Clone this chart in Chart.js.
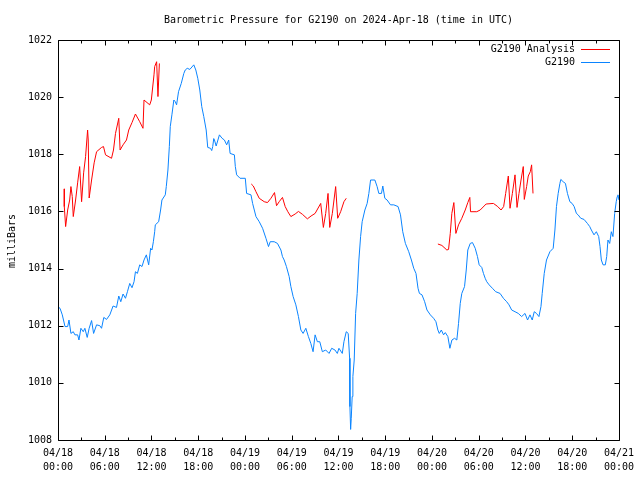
<!DOCTYPE html>
<html>
<head>
<meta charset="utf-8">
<script src="https://cdn.jsdelivr.net/npm/chart.js@4.4.1/dist/chart.umd.min.js"></script>
<style>
html,body{margin:0;padding:0;background:#fff;}
#wrap{width:640px;height:480px;position:relative;}
</style>
</head>
<body>
<div id="wrap"><canvas id="c" width="640" height="480"></canvas></div>
<script>
const chartTitle = "Barometric Pressure for G2190 on 2024-Apr-18 (time in UTC)";
const yAxisTitle = "milliBars";
const seriesNames = ["G2190 Analysis", "G2190"];
const xTickDates = ["04/18","04/18","04/18","04/18","04/19","04/19","04/19","04/19","04/20","04/20","04/20","04/20","04/21"];
const xTickTimes = ["00:00","06:00","12:00","18:00","00:00","06:00","12:00","18:00","00:00","06:00","12:00","18:00","00:00"];
const yTicks = [1008,1010,1012,1014,1016,1018,1020,1022];

// hours since 04/18 00:00 UTC
const stationHours = [0,0.26,0.55,0.9,1.24,1.41,1.66,1.96,2.17,2.52,2.69,2.94,3.24,3.45,3.75,4.0,4.31,4.57,4.95,5.37,5.59,5.88,6.23,6.65,7.07,7.51,7.8,8.06,8.35,8.66,8.91,9.21,9.5,9.76,9.94,10.19,10.49,10.78,11.04,11.34,11.64,11.89,12.06,12.24,12.41,12.49,12.92,13.17,13.34,13.77,13.9,14.11,14.29,14.41,14.62,14.87,15.05,15.22,15.47,15.82,16.15,16.33,16.59,16.92,17.43,17.69,17.94,18.2,18.45,18.71,19.02,19.22,19.57,19.73,19.86,19.99,20.08,20.3,20.72,21.06,21.36,21.65,21.91,22.09,22.64,22.76,22.93,23.37,24.04,24.21,24.77,24.98,25.41,25.83,26.26,26.69,27.02,27.24,27.75,28.17,28.61,28.81,29.03,29.32,29.67,29.89,30.18,30.53,30.86,31.17,31.46,31.81,32.14,32.45,32.74,33.0,33.29,33.6,33.93,34.36,34.79,35.13,35.55,35.85,36.06,36.49,36.7,37.0,37.25,37.43,37.47,37.56,37.64,37.76,37.85,38.02,38.2,38.4,38.62,38.84,39.04,39.39,39.68,39.9,40.12,40.67,40.96,41.18,41.52,41.69,41.95,42.24,42.68,43.1,43.65,43.96,44.25,44.59,45.02,45.36,45.66,45.95,46.21,46.39,46.72,47.06,47.36,47.79,48.21,48.51,48.76,48.94,49.2,49.49,49.71,50.04,50.3,50.56,50.9,51.19,51.41,51.63,51.83,52.18,52.4,52.6,52.91,53.2,53.55,53.84,54.06,54.39,54.61,54.83,55.03,55.34,55.76,56.18,56.74,57.17,57.59,57.89,58.23,58.66,59.08,59.51,59.94,60.27,60.58,60.87,61.13,61.42,61.73,61.99,62.15,62.41,62.7,63.14,63.56,63.78,63.98,64.2,64.42,64.54,64.84,65.13,65.39,65.7,65.99,66.25,66.54,66.76,67.1,67.52,67.95,68.25,68.46,68.8,69.1,69.4,69.57,69.74,69.96,70.25,70.43,70.59,70.81,71.02,71.23,71.45,71.65,71.78,71.87,72.0];
const stationPressure = [1012.66,1012.61,1012.38,1011.97,1011.97,1012.2,1011.73,1011.79,1011.68,1011.68,1011.5,1011.91,1011.79,1011.91,1011.59,1011.91,1012.18,1011.73,1012.03,1012.0,1011.91,1012.29,1012.22,1012.38,1012.69,1012.64,1013.04,1012.84,1013.11,1012.96,1013.19,1013.48,1013.33,1013.54,1013.89,1013.83,1014.13,1014.07,1014.3,1014.48,1014.13,1014.71,1014.65,1014.94,1015.29,1015.53,1015.64,1016.05,1016.4,1016.58,1016.87,1017.45,1018.27,1018.97,1019.38,1019.9,1019.84,1019.73,1020.19,1020.48,1020.83,1020.95,1021.01,1020.97,1021.13,1020.95,1020.66,1020.25,1019.67,1019.32,1018.85,1018.24,1018.21,1018.13,1018.27,1018.55,1018.5,1018.29,1018.68,1018.56,1018.5,1018.33,1018.5,1018.03,1017.98,1017.57,1017.28,1017.16,1017.16,1016.63,1016.58,1016.28,1015.82,1015.64,1015.41,1015.06,1014.77,1014.94,1014.94,1014.88,1014.65,1014.42,1014.3,1014.07,1013.72,1013.37,1013.02,1012.73,1012.32,1011.85,1011.73,1011.91,1011.62,1011.38,1011.09,1011.68,1011.44,1011.44,1011.09,1011.15,1011.03,1011.21,1011.15,1011.03,1011.21,1011.03,1011.44,1011.79,1011.73,1010.86,1009.17,1008.37,1008.76,1009.52,1010.22,1010.8,1012.43,1013.13,1014.3,1015.12,1015.64,1016.05,1016.28,1016.63,1017.1,1017.1,1016.87,1016.63,1016.63,1016.89,1016.46,1016.4,1016.23,1016.23,1016.17,1015.88,1015.29,1014.88,1014.59,1014.3,1014.01,1013.83,1013.31,1013.13,1013.08,1012.84,1012.55,1012.38,1012.26,1012.14,1011.85,1011.73,1011.85,1011.68,1011.76,1011.62,1011.21,1011.5,1011.56,1011.5,1012.08,1012.78,1013.13,1013.37,1013.95,1014.65,1014.88,1014.91,1014.71,1014.42,1014.13,1014.04,1013.83,1013.66,1013.54,1013.43,1013.31,1013.19,1013.13,1012.96,1012.84,1012.73,1012.55,1012.49,1012.43,1012.32,1012.43,1012.2,1012.38,1012.2,1012.49,1012.43,1012.32,1012.67,1013.13,1013.83,1014.3,1014.59,1014.71,1015.35,1016.17,1016.63,1016.98,1017.12,1017.04,1016.98,1016.63,1016.34,1016.28,1016.17,1015.93,1015.88,1015.76,1015.72,1015.58,1015.47,1015.35,1015.18,1015.29,1015.12,1014.77,1014.3,1014.13,1014.13,1014.42,1015.0,1014.88,1015.29,1015.12,1015.93,1016.34,1016.52,1016.58,1016.4];

// analysis series; null separates the three runs
const analysisHours = [0.81,0.81,0.98,1.24,1.5,1.66,1.83,1.96,2.26,2.52,2.78,3.03,3.29,3.54,3.8,3.88,4.0,4.31,4.64,4.95,5.59,5.84,6.1,6.87,7.12,7.38,7.8,7.97,8.35,8.79,9.08,9.5,9.94,10.49,10.91,11.04,11.77,11.98,12.32,12.41,12.66,12.83,12.92,13.01,
  18.9,
  24.81,25.07,25.41,25.83,26.47,26.89,27.33,27.79,28.05,28.39,28.81,29.16,29.5,29.89,30.44,30.86,31.37,32.01,32.48,33.0,33.72,34.06,34.36,34.66,34.88,35.21,35.64,35.9,36.28,36.7,37.0,
  43.0,
  48.76,49.27,49.91,50.13,50.35,50.55,50.81,51.07,51.41,51.83,52.27,52.6,52.86,52.95,53.75,54.19,54.95,55.89,56.44,56.87,57.2,57.46,57.8,58.02,58.32,58.66,58.92,59.17,59.43,59.72,59.85,60.15,60.36,60.62,60.79,60.97];
const analysisPressure = [1016.79,1016.17,1015.47,1016.05,1016.4,1016.87,1016.52,1015.82,1016.4,1017.0,1017.57,1016.34,1017.35,1017.92,1018.85,1018.5,1016.47,1017.1,1017.7,1018.09,1018.24,1018.27,1017.98,1017.86,1018.15,1018.73,1019.26,1018.15,1018.33,1018.5,1018.85,1019.11,1019.41,1019.14,1018.91,1019.9,1019.73,1019.9,1020.78,1021.07,1021.24,1020.02,1020.6,1021.18,
  null,
  1016.96,1016.89,1016.69,1016.46,1016.34,1016.31,1016.46,1016.66,1016.2,1016.34,1016.49,1016.17,1015.99,1015.82,1015.91,1016.0,1015.9,1015.74,1015.84,1015.93,1016.28,1015.44,1015.93,1016.63,1015.44,1015.93,1016.87,1015.76,1015.99,1016.34,1016.46,
  null,
  1014.86,1014.81,1014.65,1014.67,1015.23,1015.93,1016.31,1015.23,1015.53,1015.76,1016.05,1016.31,1016.49,1015.99,1015.99,1016.05,1016.26,1016.28,1016.17,1016.05,1016.17,1016.63,1017.24,1016.11,1016.63,1017.28,1016.14,1016.63,1017.1,1017.57,1016.42,1016.87,1017.24,1017.39,1017.63,1016.63];

const FONT = "'DejaVu Sans Mono', 'Liberation Mono', monospace";
const RED = "#ff0000";
const BLUE = "#0a84ff";

const gnuplotDecor = {
  id: 'gnuplotDecor',
  afterDraw(chart) {
    const ctx = chart.ctx;
    const a = chart.chartArea;
    const xs = chart.scales.x, ys = chart.scales.y;
    ctx.save();
    // border box
    ctx.strokeStyle = '#000';
    ctx.lineWidth = 1;
    const L = Math.round(a.left) + 0.5, R = Math.round(a.right) + 0.5;
    const T = Math.round(a.top) + 0.5, B = Math.round(a.bottom) + 0.5;
    ctx.beginPath();
    ctx.rect(L, T, R - L, B - T);
    ctx.stroke();
    // x ticks (major every 6h, minor every 3h), bottom and top
    ctx.beginPath();
    for (let h = 0; h <= 72; h += 3) {
      const px = Math.round(xs.getPixelForValue(h)) + 0.5;
      const len = (h % 6 === 0) ? 5 : 3;
      ctx.moveTo(px, B); ctx.lineTo(px, B - len);
      ctx.moveTo(px, T); ctx.lineTo(px, T + len);
    }
    // y ticks, left and right
    yTicks.forEach(v => {
      const py = Math.round(ys.getPixelForValue(v)) + 0.5;
      ctx.moveTo(L, py); ctx.lineTo(L + 5, py);
      ctx.moveTo(R, py); ctx.lineTo(R - 5, py);
    });
    ctx.stroke();
    // title
    ctx.fillStyle = '#000';
    ctx.font = '10px ' + FONT;
    ctx.textAlign = 'center';
    ctx.textBaseline = 'middle';
    ctx.fillText(chartTitle, (a.left + a.right) / 2, 20);
    // y axis title
    ctx.save();
    ctx.translate(12, 241);
    ctx.rotate(-Math.PI / 2);
    ctx.fillText(yAxisTitle, 0, 0);
    ctx.restore();
    // legend
    ctx.textAlign = 'right';
    const colors = [RED, BLUE];
    const rows = [49.5, 62.5];
    seriesNames.forEach((name, i) => {
      ctx.fillStyle = '#000';
      ctx.fillText(name, 575, rows[i]);
      ctx.strokeStyle = colors[i];
      ctx.beginPath();
      ctx.moveTo(581, rows[i]); ctx.lineTo(610, rows[i]);
      ctx.stroke();
    });
    ctx.restore();
  }
};

new Chart(document.getElementById('c'), {
  type: 'line',
  data: {
    datasets: [
      {
        label: seriesNames[0],
        data: analysisHours.map((h, i) => ({x: h, y: analysisPressure[i]})),
        borderColor: RED, borderWidth: 1, pointRadius: 0, tension: 0, spanGaps: false, fill: false
      },
      {
        label: seriesNames[1],
        data: stationHours.map((h, i) => ({x: h, y: stationPressure[i]})),
        borderColor: BLUE, borderWidth: 1, pointRadius: 0, tension: 0, fill: false
      }
    ]
  },
  options: {
    responsive: false,
    animation: false,
    layout: { padding: { left: 0, right: 19, top: 40, bottom: 0 } },
    plugins: { legend: { display: false }, title: { display: false }, tooltip: { enabled: false } },
    scales: {
      x: {
        type: 'linear', min: 0, max: 72,
        afterBuildTicks(scale) { scale.ticks = xTickDates.map((d, i) => ({value: i * 6})); },
        afterFit(scale) { scale.height = 40; },
        grid: { display: false, drawTicks: false },
        border: { display: false },
        ticks: {
          autoSkip: false, maxRotation: 0, padding: 6, color: '#000',
          font: { family: FONT, size: 10, lineHeight: 1.4 },
          callback(v) { const i = Math.round(v / 6); return [xTickDates[i], xTickTimes[i]]; }
        }
      },
      y: {
        min: 1008, max: 1022,
        afterBuildTicks(scale) { scale.ticks = yTicks.map(v => ({value: v})); },
        afterFit(scale) { scale.width = 58; },
        grid: { display: false, drawTicks: false },
        border: { display: false },
        ticks: { padding: 6, color: '#000', font: { family: FONT, size: 10 },
          callback(v) { return String(v); } }
      }
    }
  },
  plugins: [gnuplotDecor]
});
</script>
</body>
</html>
